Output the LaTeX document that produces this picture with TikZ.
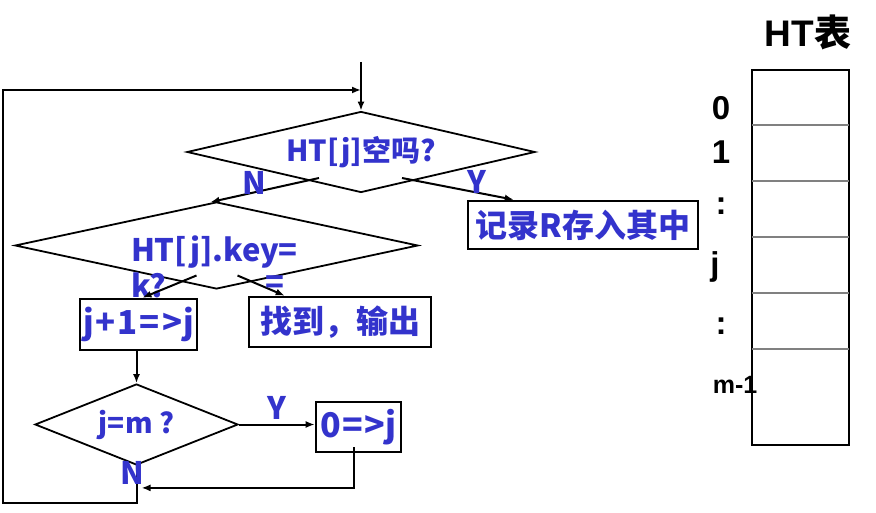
\documentclass[tikz,border=0pt]{standalone}
\usepackage{fontspec}
\setmainfont{Liberation Sans}
\newfontfamily\cjkfont{Noto Sans CJK SC}
\usetikzlibrary{shapes.geometric}
\usetikzlibrary{arrows.meta}
\usetikzlibrary{calc}
\definecolor{txtblue}{RGB}{51,51,204}

\begin{document}
\begin{tikzpicture}[x=1pt,y=1pt,>={Latex[length=9pt,width=7pt]},line width=2pt,
  txt/.style={font=\cjkfont\bfseries\fontsize{#1}{36}\selectfont,text=txtblue,inner sep=0pt},
  txt/.default=31,
  decision/.style={diamond,draw=black,line width=1.8pt,inner sep=0pt},
  proc/.style={rectangle,draw=black,line width=2.6pt,inner sep=0pt},
  idx/.style={font=\bfseries\fontsize{#1}{36}\selectfont,inner sep=0pt},
  idx/.default=33]

      \useasboundingbox (0,0) rectangle (876,512);

      % entry and loop corners
      \coordinate (entry) at (361,450);
      \coordinate (join) at (361,422);
      \coordinate (lp) at (3,9);

      % HT[j] empty?
      \node [decision, txt=29, aspect=4.3, minimum width=348, minimum height=81]
      (d1) at (361,360) {HT[j]空吗?};
      \node [proc, txt=32, minimum width=230, minimum height=48]
      (rec) at (583,287) {记录R存入其中};

      % key compare
      \node [decision, minimum width=403, minimum height=87] (d2) at (216.5,266.5) {};
      \node [txt, align=left, anchor=north west] (d2t) at (130,277) {HT[j].key=\\k?};
      \node [proc, txt=33, minimum width=117, minimum height=51]
      (inc) at (138.5,187.5) {j\hspace{2pt}+\hspace{2pt}1\hspace{2pt}=\hspace{2pt}>\hspace{1pt}j};
      \node [proc, txt=32, minimum width=182, minimum height=50]
      (found) at (340,190) {找到，输出};

      % j = m ?
      \node [decision, txt=28, aspect=2.5, minimum width=203, minimum height=81]
      (d3) at (136.5,87.5) {j=m ?};
      \node [proc, txt=34, minimum width=85, minimum height=50]
      (zero) at (358.5,85) {0\hspace{1pt}=\hspace{1pt}>j};

      % connectors
      \draw [->] (entry) -- (d1.north);
      \draw [->] (d3.south) |- (lp) |- (join);
      \draw [->] ($(d1.center)+(-42,-26)$) -- ($(d2.north)+(-6,-1)$);
      \draw [->] ($(d1.center)+(41,-26)$) -- ($(rec.north west)+(47,0)$);
      \draw [->] ($(d2.center)+(-20,-30)$) -- ($(inc.north)+(4,0)$);
      \draw [->] ($(d2.center)+(21,-30)$) -- ($(found.north west)+(37,0)$);
      \draw [->] (d3.north |- inc.south) -- (d3.north);
      \draw [->] (d3.east) -- (d3.east -| zero.west);
      \draw [->] ($(zero.south)+(-5,6)$) |- ($(d3.south)+(5,-22)$);

      % branch labels
      \node [txt] (n1) at (254,329) {N};
      \node [txt] (y1) at (477,330) {Y};
      \node [txt] (eq) at (275,227) {=};
      \node [txt] (y3) at (277,104) {Y};
      \node [txt] (n3) at (132,39) {N};

      % HT table
      \node [draw=black, line width=2.4pt, minimum width=97, minimum height=375,
      inner sep=0pt] (ht) at (800.5,254.5) {};
      \foreach \r in {1,...,5}
        \draw [gray, line width=1.5pt] ($(ht.north west)+(1,-56*\r)$) -- ($(ht.north east)+(-1,-56*\r)$);
      \node [font=\bfseries\fontsize{37}{40}\selectfont, inner sep=0pt]
      (title) at (808,480) {HT{\cjkfont 表}};

      % row indices
      \node [idx] (i0) at (721,404) {0};
      \node [idx] (i1) at (721,360) {1};
      \node [idx] (i2) at (721,306) {:};
      \node [idx] (ij) at (715,245) {j};
      \node [idx] (i3) at (721,186) {:};
      \node [idx=25] (im) at (735,127) {m-1};

\end{tikzpicture}
\end{document}
